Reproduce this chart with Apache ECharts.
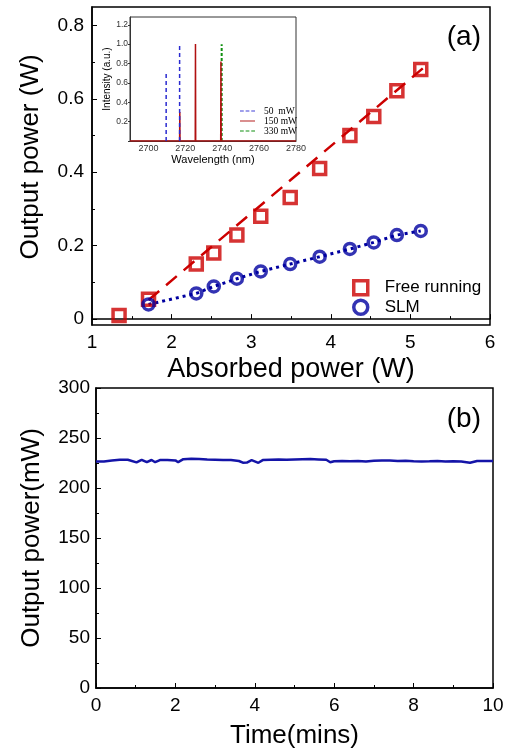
<!DOCTYPE html>
<html>
<head>
<meta charset="utf-8">
<script src="https://cdn.jsdelivr.net/npm/echarts@6/dist/echarts.min.js"></script>
<style>
  html, body { margin: 0; padding: 0; background: #fff; }
  #chart { width: 513px; height: 756px; }
</style>
</head>
<body>
<div id="chart"></div>
<script>
// ---- Panel (a): laser output vs absorbed pump power ----
const absorbedFree = [1.34, 1.71, 2.31, 2.53, 2.82, 3.12, 3.49, 3.86, 4.24, 4.54, 4.83, 5.13];
const outputFree   = [0.010, 0.054, 0.150, 0.180, 0.229, 0.280, 0.331, 0.410, 0.500, 0.552, 0.622, 0.680];
const absorbedSLM  = [1.71, 2.31, 2.53, 2.82, 3.12, 3.49, 3.86, 4.24, 4.54, 4.83, 5.13];
const outputSLM    = [0.040, 0.070, 0.089, 0.110, 0.130, 0.150, 0.170, 0.191, 0.209, 0.229, 0.240];
// linear fit through the free-running points
const fitFreeX = [1.71, 5.20];
const fitFreeY = [0.052, 0.691];
const powerTicks      = [0, 0.2, 0.4, 0.6, 0.8];
const powerMinorTicks = [0.1, 0.3, 0.5, 0.7];

// ---- Inset: lasing spectra at three output powers ----
const spec50Wl  = [2709.6, 2716.9];
const spec50I   = [0.70, 0.98];
const spec150Wl = [2717.0, 2725.5, 2739.3];
const spec150I  = [0.30, 1.00, 0.82];
const spec330Wl = [2739.7];
const spec330I  = [1.00];

// ---- Panel (b): output power stability over 10 minutes ----
const timeMin = [0, 0.2, 0.4, 0.6, 0.8, 1.02, 1.15, 1.28, 1.4, 1.49, 1.61, 1.8, 2.0, 2.07, 2.2,
  2.4, 2.6, 2.8, 3.0, 3.2, 3.4, 3.6, 3.7, 3.8, 3.92, 4.09, 4.2, 4.4, 4.6, 4.8, 5.0, 5.2, 5.4,
  5.6, 5.8, 5.9, 6.0, 6.2, 6.4, 6.6, 6.8, 7.0, 7.2, 7.4, 7.6, 7.8, 8.0, 8.2, 8.4, 8.6, 8.8,
  9.0, 9.2, 9.42, 9.6, 9.8, 10];
const stablePower = [226.6, 226.6, 227.4, 228.2, 228.3, 225.6, 228.2, 225.8, 228.0, 225.8, 227.9, 227.9, 227.6, 225.8, 228.8,
  229.2, 229.0, 228.4, 228.2, 228.0, 227.9, 227.0, 225.3, 225.4, 227.8, 225.2, 227.9, 228.2, 228.4, 228.2, 228.6, 228.8, 229.0,
  228.6, 228.2, 225.8, 226.8, 227.0, 226.8, 226.9, 226.5, 227.2, 227.5, 227.4, 227.0, 227.3, 226.8, 226.6, 226.7, 226.9, 226.6,
  226.7, 226.6, 225.2, 227.0, 227.0, 227.0];

const RED = '#cc0000';
const BLUE = '#0000a0';
const SANS = 'Liberation Sans';
const SERIF = 'Liberation Serif';

// legend glyphs for the spectra: short dashed / solid strokes
const DASH_ICON  = 'path://M0,0h4v1h-4z M6,0h4v1h-4z M12,0h4v1h-4z';
const SOLID_ICON = 'path://M0,0h16v1h-16z';

const zip = (xs, ys) => xs.map((x, i) => [x, ys[i]]);

// vertical peak segments (broken between peaks)
function peakSegments(wl, inten) {
  const out = [];
  wl.forEach((w, i) => { out.push([w, 0], [w, inten[i]], [w, '-']); });
  return out;
}
// narrow peaks sitting on a continuous baseline
function peaksOnBaseline(wl, inten, lo, hi) {
  const out = [[lo, 0]];
  wl.forEach((w, i) => { out.push([w - 0.12, 0], [w, inten[i]], [w + 0.12, 0]); });
  out.push([hi, 0]);
  return out;
}

const axisLineBlack = { show: true, lineStyle: { color: '#000', width: 1.5 } };

const option = {
  animation: false,
  backgroundColor: '#fff',
  textStyle: { fontFamily: SANS },
  title: [
    { text: '(a)', right: 27, top: 18, textStyle: { fontFamily: SANS, fontSize: 28, fontWeight: 'normal', color: '#000' } },
    { text: '(b)', right: 27, top: 400, textStyle: { fontFamily: SANS, fontSize: 28, fontWeight: 'normal', color: '#000' } }
  ],
  grid: [
    { left: 92, top: 7, width: 398, height: 318, show: true, borderColor: '#000', borderWidth: 1.5, backgroundColor: 'transparent' },
    { left: 130, top: 17, width: 166, height: 124, show: true, borderColor: '#333', borderWidth: 1, backgroundColor: '#fff' },
    { left: 96, top: 388, width: 397, height: 300, show: true, borderColor: '#000', borderWidth: 1.5, backgroundColor: 'transparent' }
  ],
  legend: [
    {
      data: ['Free running', 'SLM'],
      orient: 'vertical', left: 347, top: 274, itemWidth: 14, itemHeight: 14, itemGap: 2,
      itemStyle: { borderWidth: 3.5 },
      textStyle: { fontFamily: SANS, fontSize: 17, color: '#000', padding: [0, 0, 0, 12] }
    },
    {
      data: [
        { name: '50  mW', icon: DASH_ICON },
        { name: '150 mW', icon: SOLID_ICON },
        { name: '330 mW', icon: DASH_ICON }
      ],
      orient: 'vertical', left: 235, top: 101, itemWidth: 15, itemHeight: 1.6, itemGap: 0,
      textStyle: { fontFamily: SERIF, fontSize: 9.5, color: '#000', lineHeight: 10, padding: [0, 0, 0, 4] }
    }
  ],
  xAxis: [
    {
      gridIndex: 0, type: 'value', min: 1, max: 6, interval: 1,
      name: 'Absorbed power (W)', nameLocation: 'middle', nameGap: 31,
      nameTextStyle: { fontFamily: SANS, fontSize: 27, color: '#000' },
      axisLine: axisLineBlack,
      axisTick: { show: true, inside: true, length: 5, lineStyle: { color: '#000' } },
      minorTick: { show: true, splitNumber: 2, length: 3, lineStyle: { color: '#000' } },
      axisLabel: { fontSize: 19, color: '#000', margin: 8 },
      splitLine: { show: false }
    },
    {
      gridIndex: 1, type: 'value', min: 2690, max: 2780, interval: 10,
      name: 'Wavelength (nm)', nameLocation: 'middle', nameGap: 13,
      nameTextStyle: { fontFamily: SANS, fontSize: 11, color: '#000' },
      axisLine: { show: true, lineStyle: { color: '#333', width: 1 } },
      axisTick: { show: false },
      axisLabel: { fontSize: 9, color: '#333', margin: 3, formatter: v => (v % 20 === 0 ? String(v) : '') },
      splitLine: { show: false }
    },
    {
      gridIndex: 2, type: 'value', min: 0, max: 10, interval: 2,
      name: 'Time(mins)', nameLocation: 'middle', nameGap: 35,
      nameTextStyle: { fontFamily: SANS, fontSize: 26, color: '#000' },
      axisLine: axisLineBlack,
      axisTick: { show: true, inside: true, length: 5, lineStyle: { color: '#000' } },
      minorTick: { show: true, splitNumber: 2, length: 3, lineStyle: { color: '#000' } },
      axisLabel: { fontSize: 19, color: '#000', margin: 8 },
      splitLine: { show: false }
    }
  ],
  yAxis: [
    {
      gridIndex: 0, type: 'value', min: -0.016, max: 0.85,
      name: 'Output power (W)', nameLocation: 'middle', nameGap: 48,
      nameTextStyle: { fontFamily: SANS, fontSize: 26, color: '#000', padding: [0, 0, 0, 18] },
      axisLine: axisLineBlack,
      axisTick: { show: true, inside: true, length: 5, customValues: powerTicks, lineStyle: { color: '#000' } },
      axisLabel: { fontSize: 19, color: '#000', margin: 8, customValues: powerTicks, formatter: v => (v === 0 ? '0' : v.toFixed(1)) },
      splitLine: { show: false }
    },
    {
      // minor ticks for panel (a) y axis
      gridIndex: 0, type: 'value', min: -0.016, max: 0.85, position: 'left',
      axisLine: { show: false },
      axisTick: { show: true, inside: true, length: 3, customValues: powerMinorTicks, lineStyle: { color: '#000' } },
      axisLabel: { show: false },
      splitLine: { show: false }
    },
    {
      gridIndex: 1, type: 'value', min: 0, max: 1.28, interval: 0.2,
      name: 'Intensity (a.u.)', nameLocation: 'middle', nameGap: 18,
      nameTextStyle: { fontFamily: SANS, fontSize: 10, color: '#000' },
      axisLine: { show: true, lineStyle: { color: '#333', width: 1 } },
      axisTick: { show: true, inside: false, length: 2, lineStyle: { color: '#333' } },
      axisLabel: { fontSize: 8.5, color: '#333', margin: 2, formatter: v => (v === 0 ? '' : v.toFixed(1)) },
      splitLine: { show: false }
    },
    {
      gridIndex: 2, type: 'value', min: 0, max: 300, interval: 50,
      name: 'Output power(mW)', nameLocation: 'middle', nameGap: 51,
      nameTextStyle: { fontFamily: SANS, fontSize: 26, color: '#000' },
      axisLine: axisLineBlack,
      axisTick: { show: true, inside: true, length: 5, lineStyle: { color: '#000' } },
      minorTick: { show: true, splitNumber: 2, length: 3, lineStyle: { color: '#000' } },
      axisLabel: { fontSize: 19, color: '#000', margin: 6 },
      splitLine: { show: false }
    }
  ],
  series: [
    {
      name: 'fitFree', type: 'line', xAxisIndex: 0, yAxisIndex: 0,
      data: zip(fitFreeX, fitFreeY), showSymbol: false, symbol: 'none', silent: true,
      lineStyle: { color: RED, width: 2.5, type: [14, 9] }, z: 2
    },
    {
      name: 'fitSLM', type: 'line', xAxisIndex: 0, yAxisIndex: 0,
      data: zip(absorbedSLM, outputSLM), showSymbol: false, symbol: 'none', silent: true,
      lineStyle: { color: BLUE, width: 3, type: [3, 4] }, z: 2
    },
    {
      name: 'Free running', type: 'scatter', xAxisIndex: 0, yAxisIndex: 0,
      data: zip(absorbedFree, outputFree), symbol: 'rect', symbolSize: 12,
      itemStyle: { color: 'rgba(255,255,255,0)', borderColor: RED, borderWidth: 3.5 }, z: 3
    },
    {
      name: 'SLM', type: 'scatter', xAxisIndex: 0, yAxisIndex: 0,
      data: zip(absorbedSLM, outputSLM), symbol: 'circle', symbolSize: 11,
      itemStyle: { color: 'rgba(255,255,255,0)', borderColor: BLUE, borderWidth: 3.5 }, z: 3
    },
    {
      name: '150 mW', type: 'line', xAxisIndex: 1, yAxisIndex: 2,
      data: peaksOnBaseline(spec150Wl, spec150I, 2690, 2780), showSymbol: false, symbol: 'none',
      lineStyle: { color: '#b01010', width: 1.5 }, itemStyle: { color: '#b01010' }, z: 4
    },
    {
      name: '50  mW', type: 'line', xAxisIndex: 1, yAxisIndex: 2,
      data: peakSegments(spec50Wl, spec50I), showSymbol: false, symbol: 'none', connectNulls: false,
      lineStyle: { color: '#2a2ad0', width: 1.5, type: [4, 3] }, itemStyle: { color: '#4040d8' }, z: 5
    },
    {
      name: '330 mW', type: 'line', xAxisIndex: 1, yAxisIndex: 2,
      data: peakSegments(spec330Wl, spec330I), showSymbol: false, symbol: 'none', connectNulls: false,
      lineStyle: { color: '#109010', width: 2, type: [3, 2] }, itemStyle: { color: '#109010' }, z: 3
    },
    {
      name: 'stability', type: 'line', xAxisIndex: 2, yAxisIndex: 3,
      data: zip(timeMin, stablePower), showSymbol: false, symbol: 'none',
      lineStyle: { color: '#1414a8', width: 2.5 }
    }
  ]
};

const chart = echarts.init(document.getElementById('chart'), null, { renderer: 'canvas' });
chart.setOption(option);
</script>
</body>
</html>
